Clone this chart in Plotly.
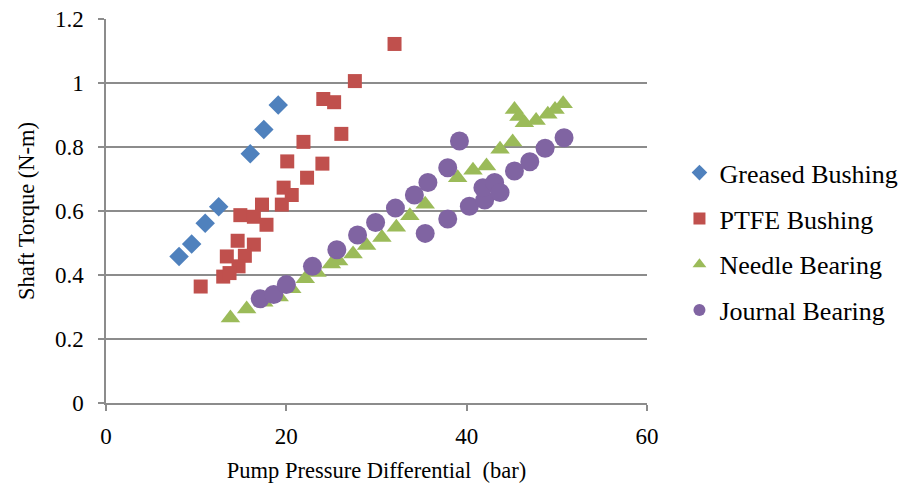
import plotly.graph_objects as go

# Shaft torque vs pump pressure differential, four bearing types
greased_x = [8.1, 9.5, 11.0, 12.5, 16.0, 17.5, 19.1]
greased_y = [0.458, 0.497, 0.562, 0.613, 0.779, 0.855, 0.931]

ptfe_x = [32.0, 27.6, 24.1, 25.3, 26.1, 21.9, 20.1, 24.0, 22.3, 19.7, 20.6, 19.5,
          17.3, 14.9, 16.4, 17.8, 14.6, 16.4, 13.4, 15.4, 14.7, 13.0, 13.7, 10.5]
ptfe_y = [1.122, 1.006, 0.950, 0.940, 0.841, 0.816, 0.755, 0.748, 0.704, 0.673, 0.650, 0.620,
          0.620, 0.587, 0.582, 0.557, 0.507, 0.495, 0.458, 0.460, 0.427, 0.395, 0.406, 0.364]

needle_x = [13.8, 15.6, 17.5, 19.2, 20.6, 22.1, 23.4, 25.0, 25.8, 27.4, 28.9, 30.6, 32.2,
            33.7, 35.4, 39.0, 40.7, 42.2, 43.7, 45.1, 45.3, 45.8, 46.4, 47.7, 49.0, 49.8, 50.7]
needle_y = [0.266, 0.294, 0.315, 0.331, 0.357, 0.388, 0.408, 0.434, 0.444, 0.466, 0.492, 0.517, 0.549,
            0.585, 0.621, 0.704, 0.727, 0.741, 0.793, 0.816, 0.917, 0.895, 0.876, 0.883, 0.902, 0.917, 0.935]

journal_x = [17.1, 18.6, 20.0, 22.9, 25.6, 27.9, 29.9, 32.1, 34.2, 35.7, 37.9, 39.2,
             35.4, 37.9, 40.3, 42.0, 41.8, 43.1, 43.7, 45.3, 47.0, 48.7, 50.8]
journal_y = [0.326, 0.339, 0.370, 0.427, 0.479, 0.525, 0.564, 0.609, 0.650, 0.689, 0.735, 0.819,
             0.530, 0.575, 0.615, 0.634, 0.673, 0.689, 0.658, 0.725, 0.754, 0.796, 0.829]

x_ticks = [0, 20, 40, 60]
y_ticks = [0, 0.2, 0.4, 0.6, 0.8, 1, 1.2]
y_tick_text = ["0", "0.2", "0.4", "0.6", "0.8", "1", "1.2"]

FONT = "Liberation Serif, Times New Roman, serif"
GRID = "#8c8c8c"

series = [
    ("Greased Bushing", greased_x, greased_y, "diamond", "#4F81BD", 15),
    ("PTFE Bushing", ptfe_x, ptfe_y, "square", "#C0504D", 14),
    ("Needle Bearing", needle_x, needle_y, "triangle-up", "#9BBB59", 17),
    ("Journal Bearing", journal_x, journal_y, "circle", "#8064A2", 19),
]

fig = go.Figure()
for name, xs, ys, sym, col, size in series:
    fig.add_trace(go.Scatter(
        x=xs, y=ys, mode="markers", name=name, legendgroup=name,
        marker=dict(symbol=sym, color=col, size=size, line=dict(width=0)),
    ))

fig.update_layout(
    width=908, height=494,
    margin=dict(l=106, r=261, t=19, b=91, autoexpand=False),
    paper_bgcolor="white", plot_bgcolor="white",
    font=dict(family=FONT, size=23, color="black"),
    showlegend=True,
    legend=dict(
        x=1.06, xanchor="left", y=0.42, yanchor="middle",
        font=dict(family=FONT, size=26, color="black"),
        tracegroupgap=9, itemsizing="constant",
        bgcolor="rgba(0,0,0,0)",
    ),
    xaxis=dict(
        range=[0, 60], tickvals=x_ticks, showgrid=False, zeroline=False,
        showline=True, linecolor=GRID, linewidth=1.5,
        ticks="outside", ticklen=6, tickcolor=GRID, tickwidth=1.5,
        tickfont=dict(family=FONT, size=23), ticklabelstandoff=6,
        title=dict(text="Pump Pressure Differential  (bar)",
                   font=dict(family=FONT, size=22.5), standoff=14),
    ),
    yaxis=dict(
        range=[0, 1.2], tickvals=y_ticks, ticktext=y_tick_text,
        showgrid=True, gridcolor=GRID, gridwidth=1.5, zeroline=False,
        showline=True, linecolor=GRID, linewidth=1.5,
        ticks="outside", ticklen=6, tickcolor=GRID, tickwidth=1.5,
        tickfont=dict(family=FONT, size=23), ticklabelstandoff=10,
        title=dict(text="Shaft Torque (N-m)",
                   font=dict(family=FONT, size=22.5), standoff=14),
    ),
)

fig.write_html("out.html")
